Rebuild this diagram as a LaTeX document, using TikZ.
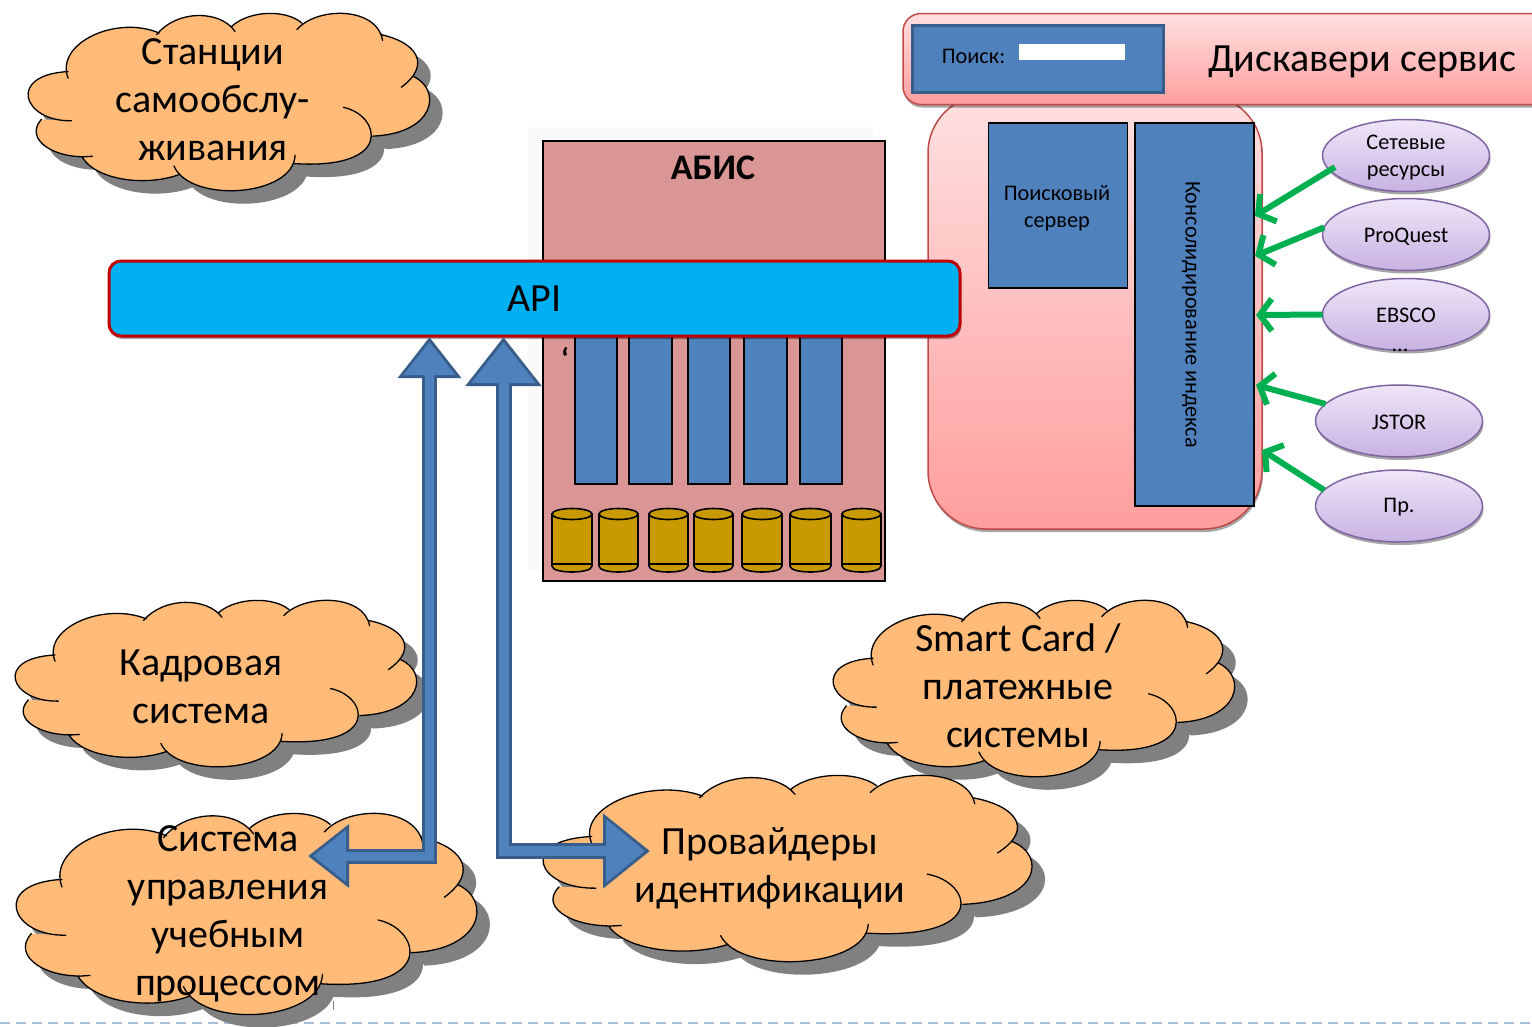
\documentclass[tikz,border=0pt]{standalone}
\usepackage{fontspec}
\setmainfont{Carlito}
\usetikzlibrary{shapes.geometric,arrows.meta,shadows,calc}
\definecolor{cloudfill}{HTML}{FFBB77}
\definecolor{cloudshadow}{HTML}{808080}
\definecolor{blockblue}{HTML}{4F81BD}
\definecolor{blockdark}{HTML}{385D8A}
\definecolor{pinkedge}{HTML}{BE4B48}
\definecolor{pinktop}{HTML}{FFE0E0}
\definecolor{pinkbottom}{HTML}{FF9E9E}
\definecolor{abisfill}{HTML}{D99694}
\definecolor{apifill}{HTML}{00B0F0}
\definecolor{apiedge}{HTML}{C00000}
\definecolor{cylfill}{HTML}{C99A00}
\definecolor{greenarrow}{HTML}{00B050}
\definecolor{ellipseedge}{HTML}{8064A2}
\definecolor{lavtop}{HTML}{EFE6F8}
\definecolor{lavbottom}{HTML}{C8B2E2}
\definecolor{dashblue}{HTML}{A9C0DB}
\def\cloudpath#1{%
  (205,235) .. controls (165,130) and (350,45) .. (478,100) #1
  (470,105) .. controls (530,30) and (660,30) .. (705,95) #1
  (695,80) .. controls (750,30) and (860,30) .. (905,70) #1
  (890,90) .. controls (950,20) and (1130,20) .. (1147,122) #1
  (1143,105) .. controls (1240,125) and (1300,190) .. (1203,262) #1
  (1240,230) .. controls (1325,270) and (1305,400) .. (1118,408) #1
  (1030,322) .. controls (1140,345) and (1185,510) .. (880,490) #1
  (885,465) .. controls (880,590) and (570,610) .. (522,497) #1
  (540,522) .. controls (440,560) and (290,540) .. (248,472) #1
  (278,468) .. controls (170,480) and (70,420) .. (125,358) #1
  (215,362) .. controls (70,365) and (20,225) .. (205,215)}
% x0 y0 x1 y1
\newcommand{\cloudshape}[4]{%
  \begin{scope}[shift={(#1+13,#2+13)},xscale={(#3-#1)/1198},yscale={(#4-#2)/535},shift={(-85,-40)}]
    \fill[cloudshadow] \cloudpath{--} -- cycle;
  \end{scope}
  \begin{scope}[shift={(#1,#2)},xscale={(#3-#1)/1198},yscale={(#4-#2)/535},shift={(-85,-40)}]
    \fill[cloudfill] \cloudpath{--} -- cycle;
    \draw[black,line width=1.3pt,line cap=round] \cloudpath{};
  \end{scope}}
\newcommand{\cyl}[2]{%
  \draw[cylbody] (#1,514) -- (#1,566) .. controls (#1,574) and (#2,574) .. (#2,566) -- (#2,514) -- cycle;
  \draw[cylbody] ({(#1+#2)/2},514) ellipse ({(#2-#1)/2} and 5.5);
  \draw[black,line width=1.6pt] (#1,564) -- (#2,564);}
\tikzset{
  x=1pt,y=-1pt,
  cloudtext/.style={align=center,inner sep=0pt,font=\fontsize{40}{48}\selectfont},
  smalltext/.style={align=center,inner sep=0pt,font=\fontsize{22.3}{27}\selectfont},
  bluebox/.style={draw=black,line width=1.6pt,fill=blockblue,inner sep=0pt,outer sep=0pt},
  slot/.style={draw=black,line width=1.6pt,fill=blockblue},
  cylbody/.style={draw=black,line width=1.6pt,fill=cylfill},
  pinkbox/.style={draw=pinkedge,line width=1.5pt,top color=pinktop,bottom color=pinkbottom,inner sep=0pt,outer sep=0pt,
    drop shadow={shadow xshift=1pt,shadow yshift=-3pt,opacity=.35,fill=black}},
  source/.style={ellipse,draw=ellipseedge,line width=1.5pt,top color=lavtop,bottom color=lavbottom,
    inner sep=0pt,outer sep=0pt,minimum width=167pt,minimum height=72pt,
    drop shadow={shadow xshift=1pt,shadow yshift=-3pt,opacity=.35,fill=black}},
  feed/.style={draw=greenarrow,line width=6pt,-{Straight Barb[length=12pt,width=32pt,line width=6pt]}},
  blockouter/.style={draw=blockdark,line width=#1,line join=miter},
  blockinner/.style={draw=blockblue,line width=#1,line join=miter},
}
\begin{document}
\begin{tikzpicture}
\useasboundingbox (0,0) rectangle (1532,1026);
\clip (0,0) rectangle (1532,1026);
\fill[white] (0,0) rectangle (1532,1026);
% bottom rule
\coordinate (ruleL) at (0,1023);
\coordinate (ruleR) at (1532,1023);
\draw[dashblue,line width=2pt,dash pattern=on 10pt off 6pt] (ruleL) -- (ruleR);
% clouds
\cloudshape{28}{13}{428}{192}
\node[cloudtext] (stations) at (213,100) {Станции\\самообслу-\\живания};
\cloudshape{15}{600}{415}{768}
\node[cloudtext] (hr) at (201,687) {Кадровая\\система};
\cloudshape{833}{600}{1233}{778}
\node[cloudtext] (smart) at (1018,686) {Smart Card /\\платежные\\системы};
\cloudshape{16}{813}{475}{1016}
\node[cloudtext] (lms) at (228,914) {Система\\управления\\учебным\\процессом};
\cloudshape{543}{775}{1030}{963}
\node[cloudtext] (idp) at (770,868) {Провайдеры\\идентификации};
\draw[gray,line width=1pt] (333,1001) -- (333,1010);
% ABIS
\fill[black!2!white] (528,127) rectangle (873,570);
\node[draw=black,line width=2pt,fill=abisfill,minimum width=342pt,minimum height=440pt,inner sep=0pt,outer sep=0pt] (abis) at (714,361) {};
\node[font=\bfseries\fontsize{36}{40}\selectfont,inner sep=0pt] (abistitle) at (713,168) {АБИС};
\node[font=\bfseries\fontsize{30}{36}\selectfont,inner sep=0pt] (tick) at (565,358) {\symbol{96}};
\foreach \a/\b in {575/617,629/672,688/730,744/787,800/842}{
  \draw[slot] (\a,325) rectangle (\b,484);
}
\cyl{552}{592}\cyl{599}{638}\cyl{649}{688}\cyl{694}{733}\cyl{742}{782}\cyl{790}{831}\cyl{842}{881}
% discovery panel
\node[pinkbox,rounded corners=58pt,minimum width=334pt,minimum height=434pt] (panel) at (1095,312) {};
\node[pinkbox,rounded corners=18pt,minimum width=680pt,minimum height=91pt] (bar) at (1243,59) {};
\node[draw=blockdark,line width=3pt,fill=blockblue,minimum width=251pt,minimum height=67pt,inner sep=0pt,outer sep=0pt] (searchbox) at (1038,59) {};
\node[font=\fontsize{22.3}{26}\selectfont,inner sep=0pt] (searchlabel) at (973.5,56) {Поиск:};
\node[fill=white,minimum width=106pt,minimum height=16pt,inner sep=0pt,outer sep=0pt] (searchfield) at (1072,52) {};
\node[font=\fontsize{40}{46}\selectfont,inner sep=0pt] (bartitle) at (1362,62) {Дискавери сервис};
\node[bluebox,minimum width=139pt,minimum height=165pt] (searchsrv) at (1058,205.5) {};
\node[smalltext] (searchsrvtext) at (1057,208) {Поисковый\\сервер};
\node[bluebox,minimum width=119pt,minimum height=383pt] (index) at (1194.5,314.5) {};
\node[smalltext,rotate=-90] (indextext) at (1191,314.5) {Консолидирование индекса};
% sources
\node[source] (net) at (1406,155.5) {};
\node[smalltext] (nettext) at (1406,158) {Сетевые\\ресурсы};
\node[source] (pq) at (1406,234.5) {};
\node[smalltext] (pqtext) at (1406,237) {ProQuest};
\node[source] (ebsco) at (1406,314.5) {};
\node[smalltext] (ebscotext) at (1406,315) {EBSCO};
\node[smalltext] (ebscodots) at (1400,350) {...};
\node[source] (jstor) at (1399,421) {};
\node[smalltext] (jstortext) at (1399,422) {JSTOR};
\node[source] (other) at (1399,506) {};
\node[smalltext] (othertext) at (1399,507) {Пр.};
\coordinate (inA) at (1255,216);
\coordinate (inB) at (1255,256);
\coordinate (inC) at (1256,315);
\coordinate (inD) at (1256,385);
\coordinate (inE) at (1262,450);
\coordinate (outA) at (1335,167);
\draw[feed] (outA) -- (inA);
\draw[feed] (pq.175) -- (inB);
\draw[feed] (ebsco.west) -- (inC);
\draw[feed] (jstor.167) -- (inD);
\draw[feed] (other.168) -- (inE);
% API
\node[draw=apiedge,line width=3pt,fill=apifill,rounded corners=12pt,minimum width=851pt,minimum height=75pt,inner sep=0pt,outer sep=0pt,
  drop shadow={shadow xshift=1pt,shadow yshift=-3pt,opacity=.35,fill=black}] (api) at (534.5,298.5) {};
\node[font=\fontsize{40}{46}\selectfont,inner sep=0pt] (apitext) at (534.5,298.5) {API};
% block arrows
\coordinate (a1top) at (429.5,337);
\coordinate (a1end) at (308,856);
\coordinate (a2top) at (503.5,337);
\coordinate (a2end) at (650,851);
\draw[blockouter=15pt,{Triangle[length=41pt,width=61pt,color=blockdark]}-{Triangle[length=41pt,width=61pt,color=blockdark]}] (a1top) |- (a1end);
\draw[blockinner=9pt,{Triangle[length=33pt,width=50pt,color=blockblue]}-{Triangle[length=33pt,width=50pt,color=blockblue]},shorten <=5pt,shorten >=5pt] (a1top) |- (a1end);
\draw[blockouter=16pt,{Triangle[length=49pt,width=73pt,color=blockdark]}-{Triangle[length=47pt,width=72pt,color=blockdark]}] (a2top) |- (a2end);
\draw[blockinner=10pt,{Triangle[length=41pt,width=62pt,color=blockblue]}-{Triangle[length=39pt,width=61pt,color=blockblue]},shorten <=5pt,shorten >=5pt] (a2top) |- (a2end);
\end{tikzpicture}
\end{document}
